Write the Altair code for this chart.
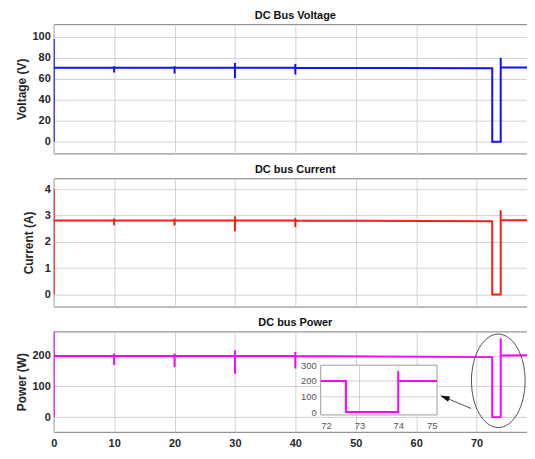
import altair as alt
import pandas as pd

FONT = "Liberation Sans"

# ---- main time series (s) ----
t = [0, 0, 0, 10, 10, 10, 10, 20, 20, 20, 20, 30, 30, 30, 30, 40, 40, 40, 40,
     72.6, 72.6, 74.0, 74.0, 74.0, 80]
voltage = [0, 98, 70.5, 70.5, 72, 66, 70.5, 70.5, 72, 65, 70.5, 70.5, 75, 60.5, 70.5,
           70.5, 74, 64, 70.5, 70, 0, 0, 80, 70.8, 70.8]
current = [0, 4, 2.81, 2.81, 2.88, 2.63, 2.81, 2.81, 2.88, 2.62, 2.81, 2.81, 2.96, 2.4,
           2.81, 2.81, 2.9, 2.55, 2.81, 2.78, 0, 0, 3.2, 2.82, 2.82]
power = [0, 280, 200, 200, 208, 170, 200, 200, 208, 163, 200, 200, 218, 142, 200,
         200, 213, 159, 200, 196, 0, 0, 258, 201, 202]

# ---- inset (zoom 72-75 s) ----
inset_t = [72, 72.65, 72.65, 74.0, 74.0, 74.0, 75]
inset_p = [200, 200, 3, 3, 262, 200, 200]
inset_xticks = [72, 73, 74, 75]
inset_yticks = [0, 100, 200, 300]
inset_xgrid = [73, 74]
inset_ygrid = [100, 200]

x_ticks = [0, 10, 20, 30, 40, 50, 60, 70, 80]
v_ticks = [0, 20, 40, 60, 80, 100]
i_ticks = [0, 1, 2, 3, 4]
p_ticks = [0, 100, 200]

# annotation (ellipse around the event, arrow to inset)
ell_t, ell_p = [73.6], [118.6]
arrow = dict(t=[69.1], p=[28.3], t2=[64.7], p2=[64.8])
arrow_head = dict(t=[64.7], p=[64.8])

W = 486
H1, H2, H3 = 130, 129, 101
idx = list(range(len(t)))
df = pd.DataFrame({"i": idx, "t": t, "v": voltage, "c": current, "p": power})

xscale = alt.Scale(domain=[0, 80], nice=False, zero=False)


def xaxis(labels):
    return alt.Axis(values=x_ticks, labels=labels, title=None, grid=True,
                    labelPadding=6, labelAlign="center")


def ptitle(text):
    return alt.TitleParams(text, anchor="middle", fontSize=11, fontWeight="bold",
                           font=FONT, color="#111", offset=3)


def panel(col, color, domain, ticks, title, ytitle, h, labels, tpad):
    yscale = alt.Scale(domain=domain, nice=False, zero=False)
    return alt.Chart(df).mark_line(color=color, strokeWidth=2, clip=True).encode(
        x=alt.X("t:Q", scale=xscale, axis=xaxis(labels)),
        y=alt.Y(f"{col}:Q", scale=yscale,
                axis=alt.Axis(values=ticks, title=ytitle, titlePadding=tpad)),
        order="i:Q",
    ).properties(width=W, height=h, title=ptitle(title))


top = panel("v", "#1010ff", [-11.2, 112.1], v_ticks, "DC Bus Voltage", "Voltage (V)", H1, False, 4)
mid = panel("c", "#ff1a1a", [-0.456, 4.41], i_ticks, "DC bus Current", "Current (A)", H2, False, 9)

# bottom panel (main layers)
p_scale = alt.Scale(domain=[-48, 280], nice=False, zero=False)
p_axis = alt.Axis(values=p_ticks, title="Power (W)", titlePadding=3.5)
main_line = alt.Chart(df).mark_line(color="#ff00ff", strokeWidth=2, clip=True).encode(
    x=alt.X("t:Q", scale=xscale, axis=xaxis(True)),
    y=alt.Y("p:Q", scale=p_scale, axis=p_axis),
    order="i:Q",
)
ellipse = alt.Chart(pd.DataFrame({"t": ell_t, "p": ell_p})).mark_point(
    shape="M0,-1 A0.574,1 0 1,1 0,1 A0.574,1 0 1,1 0,-1 Z",
    size=8836, filled=False, stroke="#505050", strokeWidth=1, opacity=1,
).encode(x=alt.X("t:Q", scale=xscale, axis=xaxis(True)),
         y=alt.Y("p:Q", scale=p_scale, axis=p_axis))
arrow_line = alt.Chart(pd.DataFrame(arrow)).mark_rule(color="#505050", strokeWidth=1).encode(
    x=alt.X("t:Q", scale=xscale, axis=xaxis(True)), x2="t2:Q",
    y=alt.Y("p:Q", scale=p_scale, axis=p_axis), y2="p2:Q")
arrow_tip = alt.Chart(pd.DataFrame(arrow_head)).mark_point(
    shape="M0,-1 L0.55,1 L-0.55,1 Z", size=100, filled=True, color="#111",
    angle=292, opacity=1,
).encode(x=alt.X("t:Q", scale=xscale, axis=xaxis(True)),
         y=alt.Y("p:Q", scale=p_scale, axis=p_axis))
main_layer = alt.layer(main_line, ellipse, arrow_line, arrow_tip)

# inset layers: own scales mapped into a sub-region of the bottom panel
IY0, IY1 = 84.0, 34.0
IX0, IX1 = 268.5, 385.5
ix_scale = alt.Scale(domain=[72, 75], range=[IX0, IX1], nice=False, zero=False)
iy_scale = alt.Scale(domain=[-15, 300], range=[IY0, IY1], nice=False, zero=False)
ix_axis = alt.Axis(values=inset_xticks, orient="bottom", offset=IY0 - H3, title=None,
                   grid=False, labelFontWeight="normal", labelColor="#555",
                   labelFontSize=9.5, labelPadding=5.5, format="d")
iy_axis = alt.Axis(values=inset_yticks, orient="left", offset=-IX0, title=None,
                   grid=False, labelFontWeight="normal", labelColor="#555",
                   labelFontSize=9.5, labelPadding=4.4, format="d")
inset_bg = alt.Chart(pd.DataFrame({"t": [72], "t2": [75], "p": [-15], "p2": [300]})).mark_rect(
    fill="white", stroke="#9a9a9a", strokeWidth=1).encode(
    x=alt.X("t:Q", scale=ix_scale, axis=ix_axis), x2="t2:Q",
    y=alt.Y("p:Q", scale=iy_scale, axis=iy_axis), y2="p2:Q")
inset_vgrid = alt.Chart(pd.DataFrame({"t": inset_xgrid, "p": [-15, -15], "p2": [300, 300]})).mark_rule(
    color="#d0d0d0", strokeWidth=1).encode(
    x=alt.X("t:Q", scale=ix_scale, axis=ix_axis),
    y=alt.Y("p:Q", scale=iy_scale, axis=iy_axis), y2="p2:Q")
inset_hgrid = alt.Chart(pd.DataFrame({"p": inset_ygrid, "t": [72, 72], "t2": [75, 75]})).mark_rule(
    color="#d0d0d0", strokeWidth=1).encode(
    x=alt.X("t:Q", scale=ix_scale, axis=ix_axis), x2="t2:Q",
    y=alt.Y("p:Q", scale=iy_scale, axis=iy_axis))
inset_line = alt.Chart(pd.DataFrame({"i": list(range(len(inset_t))), "t": inset_t, "p": inset_p})).mark_line(
    color="#ff00ff", strokeWidth=2).encode(
    x=alt.X("t:Q", scale=ix_scale, axis=ix_axis),
    y=alt.Y("p:Q", scale=iy_scale, axis=iy_axis),
    order="i:Q")
inset_layer = alt.layer(inset_bg, inset_vgrid, inset_hgrid, inset_line)

bottom = alt.layer(main_layer, inset_layer).resolve_scale(
    x="independent", y="independent").properties(
    width=W, height=H3, title=ptitle("DC bus Power"))

chart = alt.vconcat(top, mid, bottom, spacing=9).properties(
    padding={"left": 6, "top": 0, "right": -17, "bottom": -2}
).configure_axis(
    labelFont=FONT, labelFontSize=11, labelFontWeight="bold", labelColor="#262626",
    titleFont=FONT, titleFontSize=12, titleFontWeight="bold", titleColor="#262626",
    gridColor="#d2d2d2", gridWidth=1, domain=False, ticks=False, tickSize=0,
    labelPadding=3.5,
).configure_view(stroke="#7a7a7a", strokeWidth=1)

chart.save("out.html", embed_options={"renderer": "svg", "actions": False})
